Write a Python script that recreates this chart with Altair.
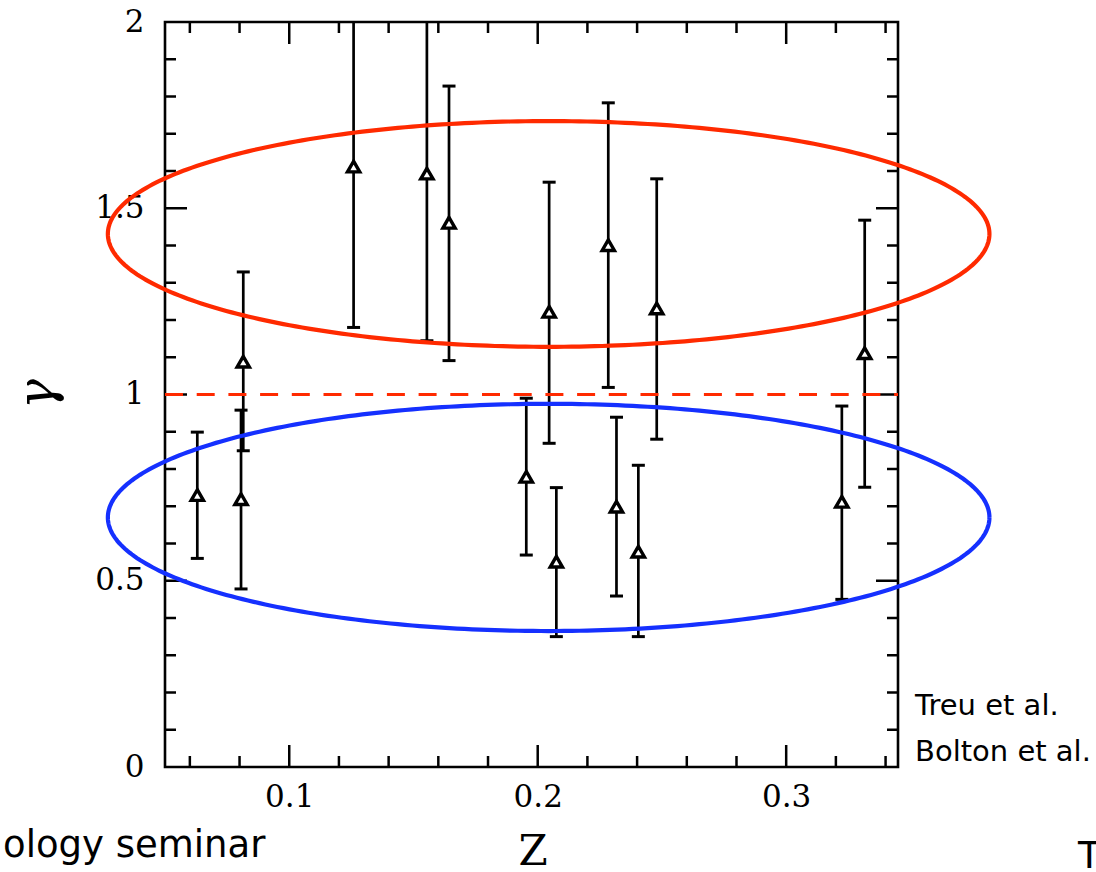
import altair as alt
import pandas as pd
import numpy as np

# ---------------- data ----------------
z_vals = [0.0630, 0.0815, 0.0806, 0.1259, 0.1554, 0.1643, 0.1954, 0.2046, 0.2075,
          0.2284, 0.2317, 0.2405, 0.2479, 0.3224, 0.3316]
gamma_vals = [0.730, 1.088, 0.719, 1.612, 1.593, 1.461, 0.779, 1.222, 0.551,
              1.401, 0.699, 0.578, 1.231, 0.712, 1.111]
gamma_lo = [0.560, 0.849, 0.478, 1.180, 1.144, 1.091, 0.569, 0.869, 0.350,
            1.019, 0.459, 0.350, 0.880, 0.450, 0.751]
gamma_hi = [0.899, 1.329, 0.958, 2.050, 2.050, 1.828, 0.990, 1.570, 0.750,
            1.783, 0.939, 0.810, 1.579, 0.969, 1.468]

# ellipses: centre z, centre gamma, half-width in z, half-height in gamma
red_ellipse = [0.2044, 1.431, 0.1774, 0.303]
blue_ellipse = [0.2044, 0.670, 0.1774, 0.305]
reference_gamma = [1.0]

x_major = [0.1, 0.2, 0.3]
x_minor = [0.06, 0.08, 0.12, 0.14, 0.16, 0.18, 0.22, 0.24, 0.26, 0.28, 0.32, 0.34]
y_labels = [0, 0.5, 1, 1.5, 2]
y_major = [0.5, 1.0, 1.5]
y_minor = [0.1, 0.2, 0.3, 0.4, 0.6, 0.7, 0.8, 0.9, 1.1, 1.2, 1.3, 1.4, 1.6, 1.7, 1.8, 1.9]

RED = "#ff2a00"
BLUE = "#1530ff"
W, H = 733, 745

xs = alt.Scale(domain=[0.05, 0.345], nice=False, zero=False)
ys = alt.Scale(domain=[0, 2], nice=False, zero=False)

XAX = alt.Axis(values=x_major, labelExpr="toString(datum.value)", ticks=False,
               domain=False, grid=False, labelFont="DejaVu Serif",
               labelFontSize=31, labelColor="black", labelPadding=15, title=None)
YAX = alt.Axis(values=y_labels, labelExpr="toString(datum.value)", ticks=False,
               domain=False, grid=False, labelFont="DejaVu Serif",
               labelFontSize=31, labelColor="black", labelPadding=21, title=None)


def X(field):
    return alt.X(field, scale=xs, axis=XAX, title=None)


def Y(field):
    return alt.Y(field, scale=ys, axis=YAX, title=None)


pts = pd.DataFrame({"z": z_vals, "g": gamma_vals, "lo": gamma_lo, "hi": gamma_hi})

bars = alt.Chart(pts).mark_rule(color="black", strokeWidth=2.7, clip=True).encode(
    x=X("z:Q"), y=Y("lo:Q"), y2="hi:Q")
cap_lo = alt.Chart(pts).mark_tick(color="black", orient="horizontal", size=13,
                                  thickness=3, opacity=1, clip=True).encode(
    x=X("z:Q"), y=Y("lo:Q"))
cap_hi = alt.Chart(pts).mark_tick(color="black", orient="horizontal", size=13,
                                  thickness=3, opacity=1, clip=True).encode(
    x=X("z:Q"), y=Y("hi:Q"))
tri = alt.Chart(pts).mark_point(shape="triangle-up", filled=False, stroke="black",
                                fill="white", fillOpacity=1,
                                strokeWidth=3.4, size=150, opacity=1, clip=True).encode(
    x=X("z:Q"), y=Y("g:Q"))


def ellipse_layer(params, color):
    cz, cg, az, bg = params
    t = np.linspace(0, 2 * np.pi, 361)
    df = pd.DataFrame({"z": cz + az * np.cos(t), "g": cg + bg * np.sin(t), "i": np.arange(len(t))})
    return alt.Chart(df).mark_line(color=color, strokeWidth=4.2, clip=False).encode(
        x=X("z:Q"), y=Y("g:Q"), order="i:Q")


dash = alt.Chart(pd.DataFrame({"g": reference_gamma})).mark_rule(
    color=RED, strokeWidth=3, strokeDash=[18, 13.7]).encode(
    y=Y("g:Q"), x=alt.value(0), x2=alt.value(W))


def xticks(vals, length, bottom):
    df = pd.DataFrame({"v": vals})
    y0 = H if bottom else 0
    y1 = H - length if bottom else length
    return alt.Chart(df).mark_rule(color="black", strokeWidth=2.5).encode(
        x=X("v:Q"), y=alt.value(y0), y2=alt.value(y1))


def yticks(vals, length, left):
    df = pd.DataFrame({"v": vals})
    x0 = 0 if left else W
    x1 = length if left else W - length
    return alt.Chart(df).mark_rule(color="black", strokeWidth=2.5).encode(
        y=Y("v:Q"), x=alt.value(x0), x2=alt.value(x1))


tick_layers = [
    xticks(x_minor, 11, True), xticks(x_major, 22, True),
    xticks(x_minor, 11, False), xticks(x_major, 22, False),
    yticks(y_minor, 11, True), yticks(y_major, 22, True),
    yticks(y_minor, 11, False), yticks(y_major, 22, False),
]


def label(text, x, y, size, font, angle=0, align="left", baseline="alphabetic", style="normal"):
    return alt.Chart(pd.DataFrame({"t": [text]})).mark_text(
        font=font, fontSize=size, color="black", align=align, baseline=baseline,
        angle=angle, fontStyle=style).encode(text="t:N", x=alt.value(x), y=alt.value(y))


texts = [
    label("γ", -127, 372, 50, "DejaVu Serif", angle=270, align="center",
          baseline="middle", style="italic"),
    label("Z", 368, 843, 42, "DejaVu Serif", align="center"),
    label("Treu et al.", 750, 693, 29, "DejaVu Sans"),
    label("Bolton et al.", 750, 739, 29, "DejaVu Sans"),
    label("ology seminar", -162, 835, 37, "DejaVu Sans"),
    label("T", 913, 846, 37, "DejaVu Sans"),
]

chart = alt.layer(
    *tick_layers, bars, cap_lo, cap_hi, tri,
    dash, ellipse_layer(red_ellipse, RED), ellipse_layer(blue_ellipse, BLUE),
    *texts
).properties(
    width=W, height=H,
    background="white",
    autosize=alt.AutoSizeParams(type="none"),
    padding={"left": 165, "top": 22, "right": 198, "bottom": 105},
).configure_view(stroke="black", strokeWidth=2.6)

chart.save("out.html", embed_options={"renderer": "svg", "actions": False})
